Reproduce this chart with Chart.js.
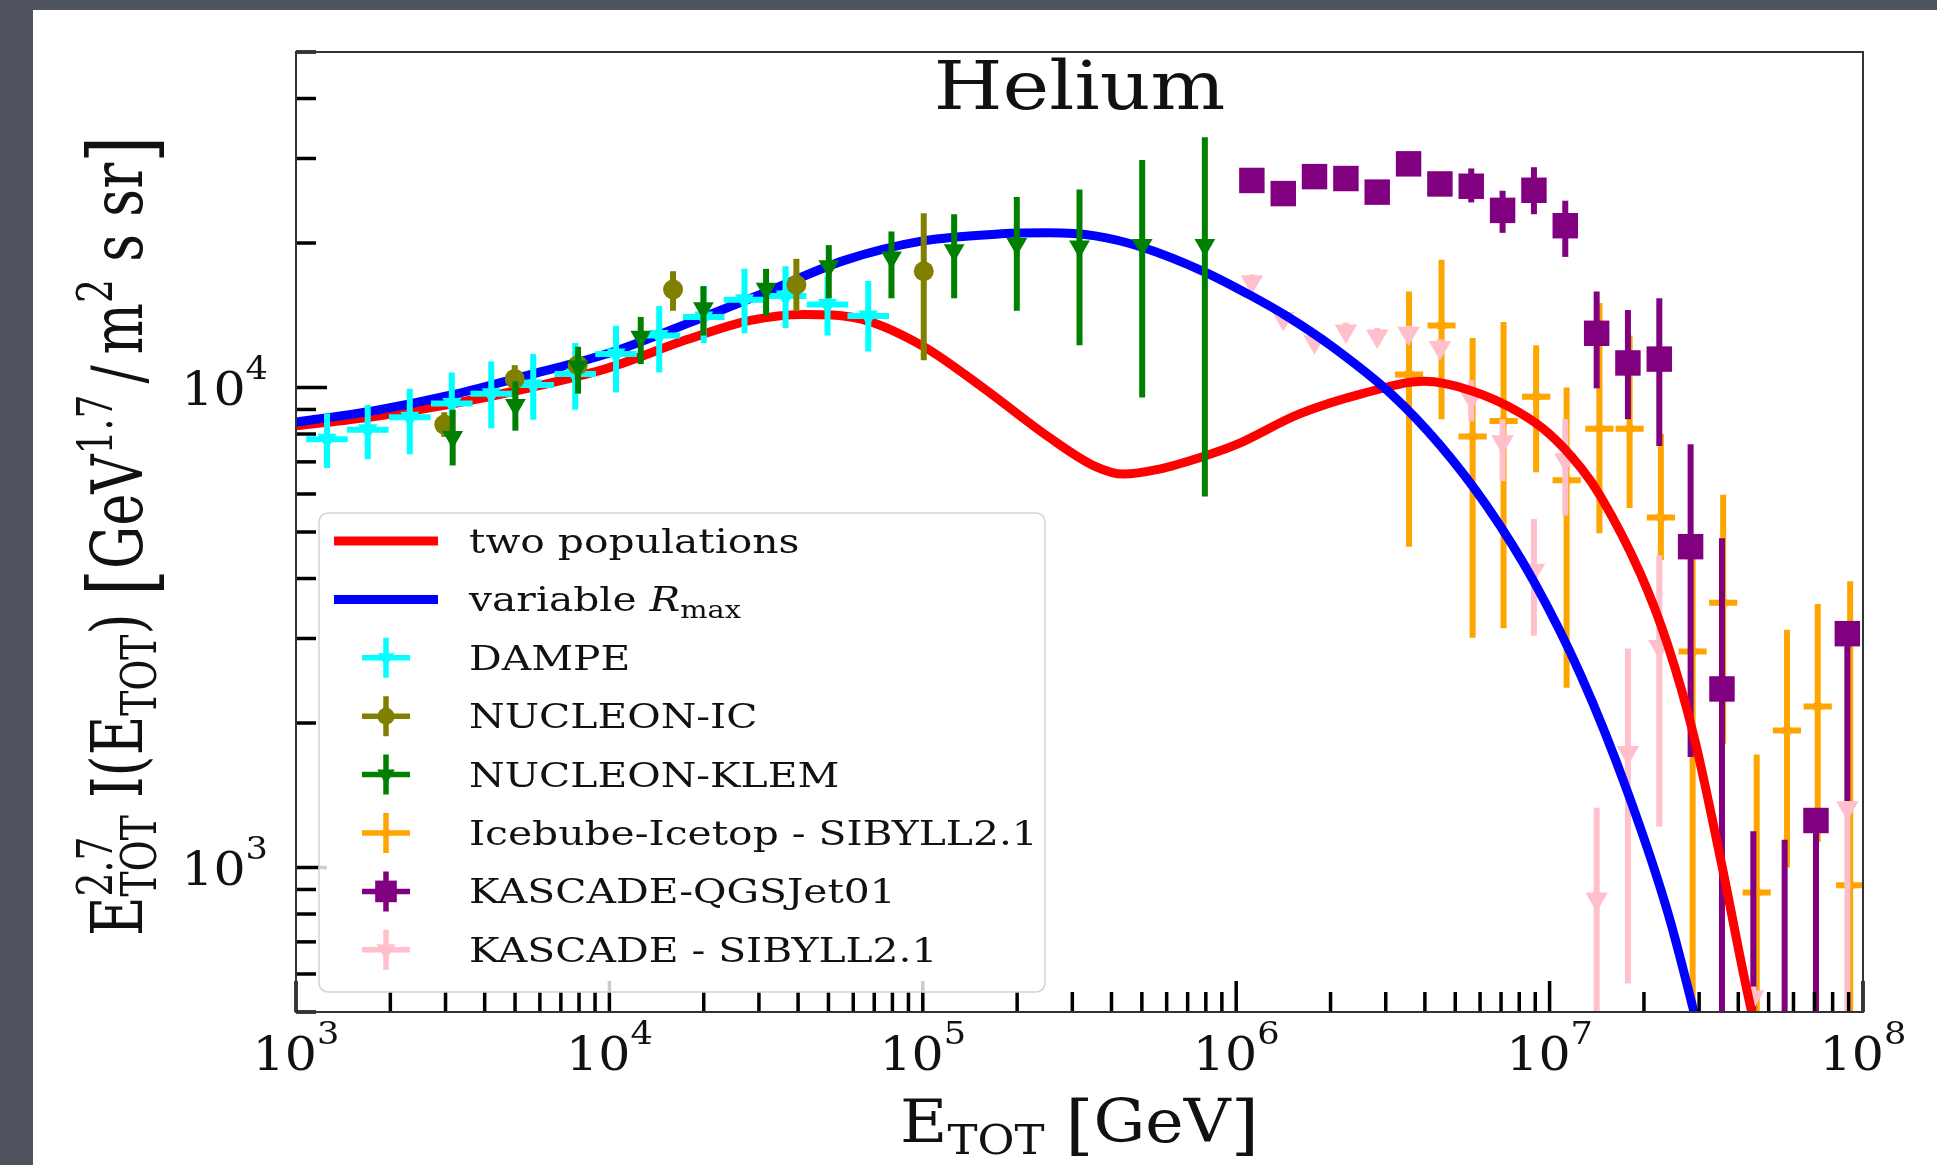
<!DOCTYPE html>
<html>
<head>
<meta charset="utf-8">
<title>Helium</title>
<script src="https://cdn.jsdelivr.net/npm/chart.js@4.4.0/dist/chart.umd.min.js"></script>
<style>
  html, body { margin: 0; padding: 0; background: #fff; }
  #helium-chart { display: block; width: 1937px; height: 1165px; }
</style>
</head>
<body>
<canvas id="helium-chart" width="1937" height="1165"></canvas>
<script>
// values (E in GeV, flux in GeV^1.7 / m^2 s sr)
const twoPopE = [1000, 1778, 3162, 5623, 1e4, 1.778e4, 2.818e4, 4.169e4, 6.31e4, 1e5, 1.585e5, 2.512e5, 3.548e5, 4.365e5, 5.623e5, 7.943e5, 1e6, 1.585e6, 2.512e6, 3.981e6, 5.623e6, 7.943e6, 1e7, 1.259e7, 1.455e7, 1.95e7, 2.377e7, 2.891e7, 3.524e7, 4.416e7, 5.012e7];
const twoPopFlux = [8320, 8700, 9250, 1.0e4, 1.10e4, 1.26e4, 1.38e4, 1.42e4, 1.39e4, 1.22e4, 9900, 7900, 6850, 6600, 6750, 7200, 7600, 8800, 9700, 1.03e4, 9850, 8900, 8000, 6800, 5930, 4090, 2920, 1870, 1030, 500, 370];

const rmaxE = [1000, 1778, 3162, 5623, 1e4, 1.778e4, 3.162e4, 5.623e4, 1e5, 1.778e5, 2.512e5, 3.548e5, 5.012e5, 7.943e5, 1.122e6, 1.445e6, 1.995e6, 3.162e6, 4.467e6, 6.31e6, 8.913e6, 1.259e7, 1.778e7, 2.382e7, 2.858e7, 3.311e7];
const rmaxFlux = [8470, 8950, 9660, 1.065e4, 1.18e4, 1.36e4, 1.58e4, 1.84e4, 2.02e4, 2.09e4, 2.10e4, 2.07e4, 1.96e4, 1.74e4, 1.55e4, 1.41e4, 1.225e4, 9620, 7590, 5660, 3940, 2510, 1430, 807, 514, 344];

const dampeE = [1256, 1694, 2307, 3141, 4198, 5715, 7780, 10500, 14420, 20000, 26980, 36480, 49660, 66990];
const dampeElo = [1078, 1454, 1980, 2696, 3603, 4906, 6678, 9013, 12380, 17170, 23160, 31310, 42630, 57500];
const dampeEhi = [1463, 1974, 2688, 3659, 4891, 6658, 9064, 12230, 16800, 23300, 31430, 42500, 57850, 78040];
const dampeFlux = [7800, 8170, 8670, 9260, 9710, 10120, 10670, 11740, 12830, 14030, 15240, 15520, 14890, 14100];
const dampeLo = [6800, 7090, 7260, 8030, 8220, 8570, 8990, 9760, 10740, 12380, 12980, 13300, 12830, 11880];
const dampeHi = [8830, 9200, 9940, 10740, 11330, 11740, 12380, 13450, 14790, 16260, 17670, 17900, 17060, 16660];

const icE = [2972, 4989, 7924, 15960, 39500, 100700];
const icFlux = [8370, 10420, 11130, 16000, 16370, 17470];
const icLo = [7890, 9540, 10420, 14450, 14450, 11390];
const icHi = [8880, 11130, 11880, 17470, 18540, 23070];

const klemE = [3162, 5012, 7943, 12590, 19950, 31620, 50120, 79430, 125900, 199500, 316200, 501200, 794300];
const klemFlux = [7890, 9200, 11060, 12760, 14620, 16060, 17900, 18660, 19320, 19900, 19670, 19800, 19800];
const klemLo = [6880, 8130, 9710, 11190, 12830, 14100, 15340, 15340, 15340, 14450, 12240, 9530, 5930];
const klemHi = [8990, 10300, 12160, 14030, 16260, 17670, 19800, 21140, 22960, 24940, 25840, 29800, 33200];

const icetopE = [3.56e6, 4.52e6, 5.68e6, 7.13e6, 9.06e6, 1.133e7, 1.442e7, 1.80e7, 2.265e7, 2.86e7, 3.58e7, 4.58e7, 5.72e7, 7.17e7, 9.1e7];
const icetopElo = [3.21e6, 4.08e6, 5.12e6, 6.43e6, 8.17e6, 1.022e7, 1.300e7, 1.623e7, 2.042e7, 2.579e7, 3.228e7, 4.130e7, 5.158e7, 6.465e7, 8.206e7];
const icetopEhi = [3.95e6, 5.01e6, 6.30e6, 7.91e6, 1.005e7, 1.257e7, 1.599e7, 1.996e7, 2.512e7, 3.172e7, 3.970e7, 5.079e7, 6.343e7, 7.952e7, 1.009e8];
const icetopFlux = [10640, 13460, 7910, 8520, 9570, 6410, 8200, 8200, 5360, 2820, 3560, 887, 1930, 2166, 918];
const icetopLo = [4660, 8590, 3010, 3150, 6660, 2370, 4970, 5610, 4370, 300, 1810, 300, 1000, 1130, 300];
const icetopHi = [15850, 18450, 12680, 13700, 12240, 10000, 15000, 12830, 8000, 4600, 5980, 1720, 3130, 3540, 3950];

const qgsE = [1.122e6, 1.413e6, 1.778e6, 2.239e6, 2.818e6, 3.548e6, 4.467e6, 5.623e6, 7.079e6, 8.913e6, 1.122e7, 1.413e7, 1.778e7, 2.239e7, 2.818e7, 3.548e7, 4.467e7, 5.623e7, 7.079e7, 8.913e7];
const qgsFlux = [27000, 25350, 27500, 27250, 25530, 29240, 26550, 26260, 23390, 25760, 21730, 12970, 11250, 11460, 4660, 2355, 350, 350, 1253, 3070];
const qgsLo = [26200, 24600, 26700, 26500, 24800, 28000, 25500, 24300, 21000, 22960, 18710, 9960, 8590, 7550, 1700, 300, 100, 100, 100, 1375];
const qgsHi = [27800, 26100, 28300, 28000, 26300, 30600, 27800, 28600, 25700, 28770, 24500, 15850, 14500, 15340, 7620, 4850, 1190, 1143, 1330, 3150];

const sibE = [1.122e6, 1.413e6, 1.778e6, 2.239e6, 2.818e6, 3.548e6, 4.467e6, 5.623e6, 7.079e6, 8.913e6, 1.122e7, 1.413e7, 1.778e7, 2.239e7, 4.467e7, 8.913e7];
const sibFlux = [16600, 13920, 12460, 13120, 12800, 12970, 12110, 9510, 7710, 4160, 7070, 860, 1737, 2888, 538, 1332];
const sibLo = [16000, 13400, 12000, 12600, 12300, 12500, 11650, 8510, 6380, 3040, 5410, 200, 573, 1216, 515, 200];
const sibHi = [17200, 14450, 12950, 13650, 13300, 13450, 12600, 10360, 8580, 5320, 8590, 1332, 2860, 4470, 565, 1375];

const xTickExp = [3, 4, 5, 6, 7, 8];
const yTickExp = [3, 4];

const FONT = '"DejaVu Serif", "Liberation Serif", serif';

function points(E, F) {
    return E.map((e, i) => ({ x: e, y: F[i] }));
}

// small rich-text helper: parts are {t, s, dy, it} or {stack: [part, part]}
function partFont(p) {
    return (p.it ? 'italic ' : '') + p.s + 'px ' + FONT;
}
function partWidth(ctx, p) {
    ctx.font = partFont(p);
    return ctx.measureText(p.t).width;
}
function drawRich(ctx, parts, align) {
    const widths = parts.map(p => p.stack
        ? Math.max(...p.stack.map(q => partWidth(ctx, q)))
        : partWidth(ctx, p));
    const total = widths.reduce((a, b) => a + b, 0);
    let x = align === 'center' ? -total / 2 : (align === 'right' ? -total : 0);
    ctx.textAlign = 'left';
    ctx.textBaseline = 'alphabetic';
    parts.forEach((p, i) => {
        (p.stack || [p]).forEach(q => {
            ctx.font = partFont(q);
            ctx.fillText(q.t, x, q.dy || 0);
        });
        x += widths[i];
    });
}
function textAt(ctx, parts, x, y, align, sx, sy, rotate) {
    ctx.save();
    ctx.translate(x, y);
    ctx.scale(sx, sy || 1);
    if (rotate) ctx.rotate(rotate);
    drawRich(ctx, parts, align);
    ctx.restore();
}

function logTicks(min, max) {
    const out = [];
    for (let e = Math.floor(Math.log10(min)); e <= Math.ceil(Math.log10(max)); e++) {
        for (let m = 1; m < 10; m++) {
            const v = m * Math.pow(10, e);
            if (v >= min * 0.999 && v <= max * 1.001) out.push({ v: v, major: m === 1 });
        }
    }
    return out;
}

const backgroundPlugin = {
    id: 'slideBackground',
    beforeDraw(chart) {
        const ctx = chart.ctx;
        ctx.save();
        ctx.fillStyle = '#ffffff';
        ctx.fillRect(0, 0, chart.width, chart.height);
        ctx.fillStyle = '#4f545e';
        ctx.fillRect(0, 0, chart.width, 10);
        ctx.fillRect(0, 0, 33, chart.height);
        ctx.restore();
    }
};

const errorBarPlugin = {
    id: 'errorBars',
    beforeDatasetDraw(chart, args) {
        const ds = chart.data.datasets[args.index];
        if (!ds.yLo) return;
        const ctx = chart.ctx, a = chart.chartArea;
        const xs = chart.scales.x, ys = chart.scales.y;
        ctx.save();
        ctx.beginPath();
        ctx.rect(a.left, a.top, a.right - a.left, a.bottom - a.top);
        ctx.clip();
        ctx.strokeStyle = ds.borderColor;
        ctx.lineWidth = 6;
        ds.data.forEach((p, i) => {
            const px = xs.getPixelForValue(p.x);
            const py = ys.getPixelForValue(p.y);
            ctx.beginPath();
            ctx.moveTo(px, ys.getPixelForValue(ds.yLo[i]));
            ctx.lineTo(px, ys.getPixelForValue(ds.yHi[i]));
            if (ds.xLo) {
                ctx.moveTo(xs.getPixelForValue(ds.xLo[i]), py);
                ctx.lineTo(xs.getPixelForValue(ds.xHi[i]), py);
            }
            ctx.stroke();
        });
        ctx.restore();
    }
};

const axesPlugin = {
    id: 'mplAxes',
    afterDatasetsDraw(chart) {
        const ctx = chart.ctx, a = chart.chartArea;
        const xs = chart.scales.x, ys = chart.scales.y;
        ctx.save();

        // inward ticks on left and bottom
        ctx.strokeStyle = '#000';
        ctx.lineWidth = 3.5;
        logTicks(xs.min, xs.max).forEach(t => {
            const px = xs.getPixelForValue(t.v);
            ctx.beginPath();
            ctx.moveTo(px, a.bottom);
            ctx.lineTo(px, a.bottom - (t.major ? 31 : 20));
            ctx.stroke();
        });
        logTicks(ys.min, ys.max).forEach(t => {
            const py = ys.getPixelForValue(t.v);
            ctx.beginPath();
            ctx.moveTo(a.left, py);
            ctx.lineTo(a.left + (t.major ? 31 : 20), py);
            ctx.stroke();
        });

        // frame
        ctx.strokeStyle = '#333';
        ctx.lineWidth = 2;
        ctx.strokeRect(a.left, a.top, a.right - a.left, a.bottom - a.top);

        // legend box
        const lx = 319, ly = 513, lw = 726, lh = 479;
        ctx.beginPath();
        ctx.roundRect(lx, ly, lw, lh, 9);
        ctx.fillStyle = 'rgba(255,255,255,0.8)';
        ctx.fill();
        ctx.strokeStyle = '#d4d4d4';
        ctx.lineWidth = 1.5;
        ctx.stroke();

        chart.data.datasets.forEach((ds, i) => {
            const y = 541 + i * 58.4;
            if (ds.showLine) {
                ctx.strokeStyle = ds.borderColor;
                ctx.lineWidth = 9;
                ctx.beginPath();
                ctx.moveTo(334, y);
                ctx.lineTo(438, y);
                ctx.stroke();
            } else {
                ctx.strokeStyle = ds.borderColor;
                ctx.lineWidth = 5.5;
                ctx.beginPath();
                ctx.moveTo(362, y);
                ctx.lineTo(410, y);
                ctx.moveTo(386, y - 20);
                ctx.lineTo(386, y + 20);
                ctx.stroke();
                ctx.fillStyle = ds.backgroundColor;
                Chart.helpers.drawPoint(ctx, {
                    pointStyle: ds.pointStyle,
                    rotation: ds.pointRotation || 0,
                    radius: ds.pointRadius * 0.85,
                    borderWidth: 0
                }, 386, y);
            }
            ctx.fillStyle = '#111';
            const parts = ds.label === 'variable R_max'
                ? [{ t: 'variable ', s: 34 }, { t: 'R', s: 34, it: true }, { t: 'max', s: 24, dy: 7 }]
                : [{ t: ds.label, s: 34 }];
            textAt(ctx, parts, 469, y + 12, 'left', 1.2);
        });

        // title inside the axes
        ctx.fillStyle = '#111';
        textAt(ctx, [{ t: 'Helium', s: 68 }], (a.left + a.right) / 2, 109, 'center', 1.16);

        // tick labels
        xTickExp.forEach(e => {
            const px = xs.getPixelForValue(Math.pow(10, e));
            textAt(ctx, [{ t: '10', s: 46 }, { t: String(e), s: 32, dy: -26 }], px, 1070, 'center', 1.1);
        });
        yTickExp.forEach(e => {
            const py = ys.getPixelForValue(Math.pow(10, e));
            textAt(ctx, [{ t: '10', s: 46 }, { t: String(e), s: 32, dy: -26 }], 268, py + 17, 'right', 1.1);
        });

        // axis labels
        textAt(ctx, [
            { t: 'E', s: 59 }, { t: 'TOT', s: 41, dy: 12 }, { t: ' ', s: 59 },
            { t: '[', s: 66, dy: 5 }, { t: 'GeV', s: 59 }, { t: ']', s: 66, dy: 5 }
        ], (a.left + a.right) / 2, 1142, 'center', 1.1);

        textAt(ctx, [
            { t: 'E', s: 59 },
            { stack: [{ t: 'TOT', s: 41, dy: 12 }, { t: '2.7', s: 41, dy: -25 }] },
            { t: ' I(E', s: 59 }, { t: 'TOT', s: 41, dy: 12 }, { t: ') ', s: 59 },
            { t: '[', s: 75, dy: 8 }, { t: 'GeV', s: 59 }, { t: '1.7', s: 41, dy: -25 },
            { t: '\u2009/\u2009m', s: 59 }, { t: '2', s: 41, dy: -25 },
            { t: ' s sr', s: 59 }, { t: ']', s: 75, dy: 8 }
        ], 142, 536, 'center', 1.2, 0.92, -Math.PI / 2);

        ctx.restore();
    }
};

function errorSeries(label, color, E, F, lo, hi, style, radius, rotation, order) {
    return {
        label: label,
        data: points(E, F),
        yLo: lo,
        yHi: hi,
        borderColor: color,
        backgroundColor: color,
        pointStyle: style,
        pointRadius: radius,
        pointRotation: rotation,
        pointBorderWidth: 0,
        showLine: false,
        clip: 0,
        order: order
    };
}

const dampeSeries = errorSeries('DAMPE', '#00ffff', dampeE, dampeFlux, dampeLo, dampeHi, 'triangle', 11, 180, 3);
dampeSeries.xLo = dampeElo;
dampeSeries.xHi = dampeEhi;
const icetopSeries = errorSeries('Icebube-Icetop - SIBYLL2.1', '#ffa500', icetopE, icetopFlux, icetopLo, icetopHi, 'rectRot', 7, 0, 8);
icetopSeries.xLo = icetopElo;
icetopSeries.xHi = icetopEhi;

const ctx = document.getElementById('helium-chart').getContext('2d');
new Chart(ctx, {
    type: 'scatter',
    data: {
        datasets: [
            {
                label: 'two populations',
                data: points(twoPopE, twoPopFlux),
                showLine: true,
                borderColor: '#ff0000',
                backgroundColor: '#ff0000',
                borderWidth: 9,
                pointRadius: 0,
                cubicInterpolationMode: 'monotone',
                clip: 0,
                order: 5
            },
            {
                label: 'variable R_max',
                data: points(rmaxE, rmaxFlux),
                showLine: true,
                borderColor: '#0000ff',
                backgroundColor: '#0000ff',
                borderWidth: 9,
                pointRadius: 0,
                cubicInterpolationMode: 'monotone',
                clip: 0,
                order: 4
            },
            dampeSeries,
            errorSeries('NUCLEON-IC', '#808000', icE, icFlux, icLo, icHi, 'circle', 10, 0, 2),
            errorSeries('NUCLEON-KLEM', '#008000', klemE, klemFlux, klemLo, klemHi, 'triangle', 12, 180, 1),
            icetopSeries,
            errorSeries('KASCADE-QGSJet01', '#800080', qgsE, qgsFlux, qgsLo, qgsHi, 'rect', 18, 0, 7),
            errorSeries('KASCADE - SIBYLL2.1', '#ffc0cb', sibE, sibFlux, sibLo, sibHi, 'triangle', 13, 180, 6)
        ]
    },
    options: {
        responsive: false,
        animation: false,
        devicePixelRatio: 1,
        layout: { padding: { left: 296, right: 74, top: 52, bottom: 153 } },
        scales: {
            x: { type: 'logarithmic', min: 1e3, max: 1e8, display: false },
            y: { type: 'logarithmic', min: 500, max: 5e4, display: false }
        },
        plugins: {
            legend: { display: false },
            tooltip: { enabled: false }
        }
    },
    plugins: [backgroundPlugin, errorBarPlugin, axesPlugin]
});
</script>
</body>
</html>
